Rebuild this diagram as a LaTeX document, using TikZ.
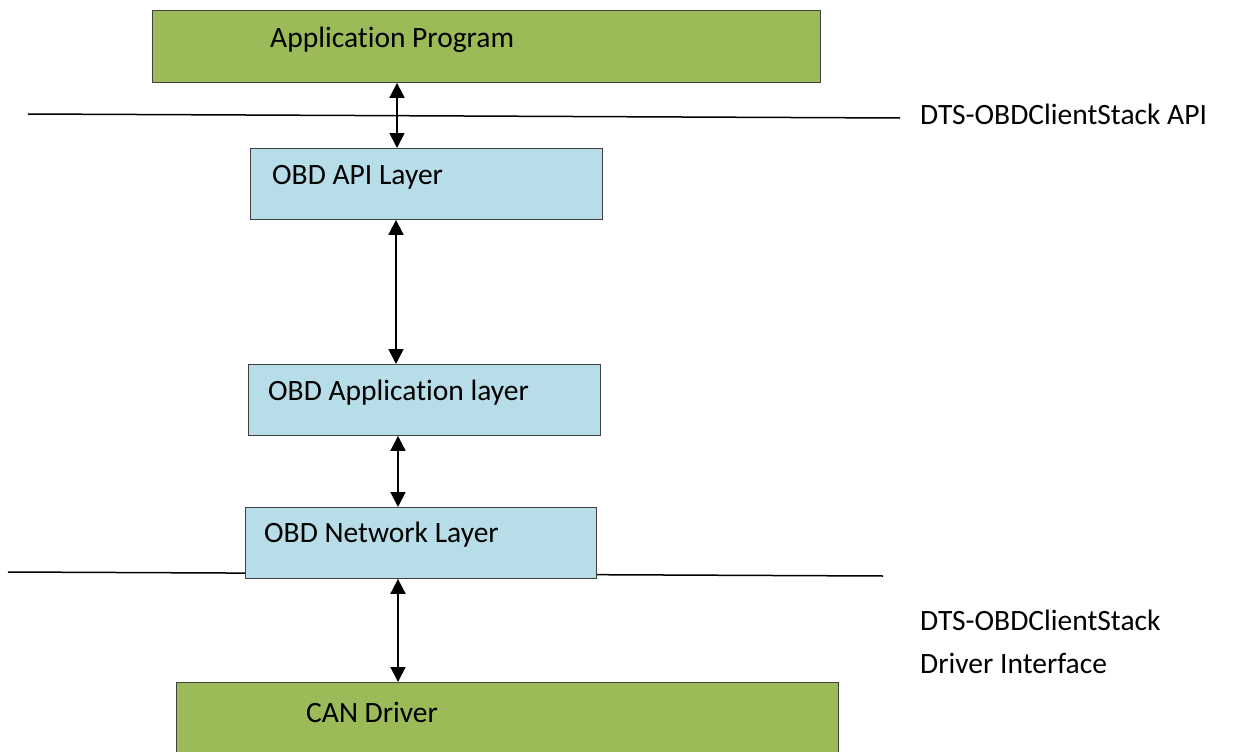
\documentclass[tikz,border=0pt]{standalone}
\usepackage{fontspec}
\setmainfont[Ligatures=NoCommon]{Carlito}
\usetikzlibrary{arrows.meta}
\definecolor{layergreen}{HTML}{9BBB59}
\definecolor{layerblue}{HTML}{B7DDE8}
\tikzset{
  layerbox/.style={draw=black!75, line width=0.9pt, minimum width=#1, inner sep=0pt, anchor=north west},
  greenbox/.style={layerbox=#1, fill=layergreen, minimum height=72pt},
  bluebox/.style={layerbox=#1, fill=layerblue, minimum height=71pt},
  boxtext/.style={anchor=west, inner sep=0pt, font=\fontsize{29.5}{34}\selectfont},
  sidetext/.style={anchor=west, inner sep=0pt, font=\fontsize{29.5}{34}\selectfont},
  boundary/.style={line width=1.5pt},
  biarrow/.style={line width=1.8pt, {Triangle[width=15pt,length=15pt]}-{Triangle[width=15pt,length=15pt]}}
}
\begin{document}
\begin{tikzpicture}[x=1pt,y=-1pt]
\useasboundingbox (0,0) rectangle (1235,752);

% interface boundaries
\coordinate (apiL) at (28,114);
\coordinate (apiR) at (900,118);
\coordinate (drvL) at (8,572);
\coordinate (drvR) at (883,576);
\draw[boundary] (apiL) -- (apiR);
\draw[boundary] (drvL) -- (drvR);

% layer boxes
\node[greenbox=668pt] (app) at (152,10) {};
\node[bluebox=352pt] (api) at (250,148) {};
\node[bluebox=352pt] (appl) at (248,364) {};
\node[bluebox=351pt] (net) at (245,507) {};
\node[greenbox=662pt, minimum height=80pt] (can) at (176,682) {};

% box labels
\node[boxtext] (tapp) at (270,40) {Application Program};
\node[boxtext] (tapi) at (272,177) {OBD API Layer};
\node[boxtext] (tappl) at (268,393) {OBD Application layer};
\node[boxtext] (tnet) at (264,535) {OBD Network Layer};
\node[boxtext] (tcan) at (306,712) {CAN Driver};

% interface labels
\node[sidetext] (lapi) at (920,114) {DTS-OBDClientStack API};
\node[sidetext] (ldrv1) at (920,620) {DTS-OBDClientStack};
\node[sidetext] (ldrv2) at (920,663) {Driver Interface};

% data flow between layers
\coordinate (a1) at (397,0);
\coordinate (a2) at (396,0);
\coordinate (a3) at (398,0);
\coordinate (a4) at (398,0);
\draw[biarrow] (app.south -| a1) -- (api.north -| a1);
\draw[biarrow] (api.south -| a2) -- (appl.north -| a2);
\draw[biarrow] (appl.south -| a3) -- (net.north -| a3);
\draw[biarrow] (net.south -| a4) -- (can.north -| a4);
\end{tikzpicture}
\end{document}
